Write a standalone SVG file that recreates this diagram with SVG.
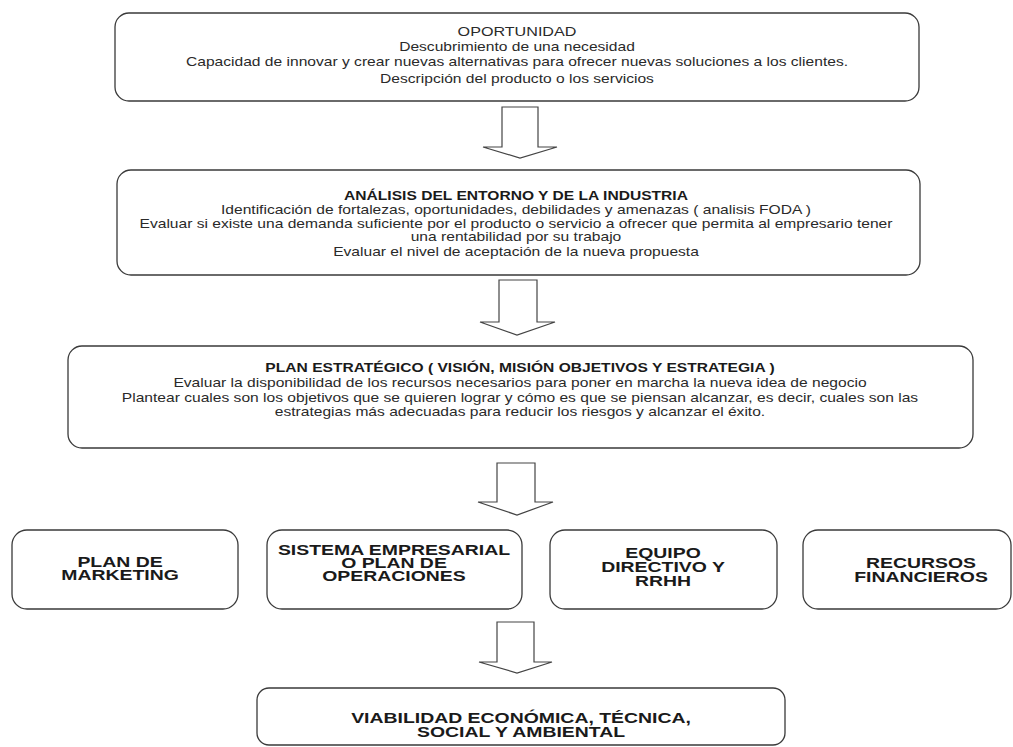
<svg xmlns="http://www.w3.org/2000/svg" width="1013" height="747" viewBox="0 0 1013 747">
<style>
.box{fill:#fff;stroke:#3a3a3a;stroke-width:1.3}
.arr{fill:#fff;stroke:#444;stroke-width:1.2;stroke-linejoin:miter}
.t{font-family:"Liberation Sans",Arial,sans-serif;font-size:12px;fill:#2a2a2a;text-anchor:middle}
.tt{font-family:"Liberation Sans",Arial,sans-serif;font-size:12px;fill:#1a1a1a;text-anchor:middle;font-weight:bold}
.b{font-family:"Liberation Sans",Arial,sans-serif;font-size:14.5px;fill:#1a1a1a;text-anchor:middle;font-weight:bold}
</style>
<rect width="1013" height="747" fill="#fff"/>
<g id="connectors">
<path class="arr" d="M502,107 H538 V147 H557 L520,158 L483,147 H502 Z"/>
<path class="arr" d="M499,280 H537 V322 H555 L517,335 L480,322 H499 Z"/>
<path class="arr" d="M497,463 H535 V502 H553 L517,515 L478,502 H497 Z"/>
<path class="arr" d="M497,622 H534 V662 H552 L517,673 L479,662 H497 Z"/>
</g>
<g id="oportunidad">
<rect class="box" x="115" y="13" width="804" height="88" rx="14"/>
<text class="t" style="font-size:12.4px" transform="translate(517,36) scale(1.3,1)">OPORTUNIDAD</text>
<text class="t" transform="translate(517,51) scale(1.3,1)">Descubrimiento de una necesidad</text>
<text class="t" transform="translate(517,66) scale(1.3,1)">Capacidad de innovar y crear nuevas alternativas para ofrecer nuevas soluciones a los clientes.</text>
<text class="t" transform="translate(517,83) scale(1.3,1)">Descripción del producto o los servicios</text>
</g>
<g id="analisis">
<rect class="box" x="117" y="170" width="803" height="105" rx="14"/>
<text class="tt" transform="translate(516,200) scale(1.3,1)">ANÁLISIS DEL ENTORNO Y DE LA INDUSTRIA</text>
<text class="t" transform="translate(516,214) scale(1.3,1)">Identificación de fortalezas, oportunidades, debilidades y amenazas ( analisis FODA )</text>
<text class="t" transform="translate(516,228) scale(1.3,1)">Evaluar si existe una demanda suficiente por el producto o servicio a ofrecer que permita al empresario tener</text>
<text class="t" transform="translate(516,241) scale(1.3,1)">una rentabilidad por su trabajo</text>
<text class="t" transform="translate(516,256) scale(1.3,1)">Evaluar el nivel de aceptación de la nueva propuesta</text>
</g>
<g id="plan-estrategico">
<rect class="box" x="68" y="346" width="905" height="102" rx="14"/>
<text class="tt" transform="translate(520,372) scale(1.3,1)">PLAN ESTRATÉGICO ( VISIÓN, MISIÓN OBJETIVOS Y ESTRATEGIA )</text>
<text class="t" transform="translate(520,387) scale(1.3,1)">Evaluar la disponibilidad de los recursos necesarios para poner en marcha la nueva idea de negocio</text>
<text class="t" transform="translate(520,402) scale(1.3,1)">Plantear cuales son los objetivos que se quieren lograr y cómo es que se piensan alcanzar, es decir, cuales son las</text>
<text class="t" transform="translate(520,416) scale(1.3,1)">estrategias más adecuadas para reducir los riesgos y alcanzar el éxito.</text>
</g>
<g id="plan-marketing">
<rect class="box" x="12" y="530" width="226" height="79" rx="15"/>
<text class="b" transform="translate(120,567) scale(1.34,1)">PLAN DE</text>
<text class="b" transform="translate(120,580) scale(1.34,1)">MARKETING</text>
</g>
<g id="sistema-empresarial">
<rect class="box" x="267" y="530" width="255" height="79" rx="15"/>
<text class="b" transform="translate(394,555) scale(1.34,1)">SISTEMA EMPRESARIAL</text>
<text class="b" transform="translate(394,568) scale(1.34,1)">O PLAN DE</text>
<text class="b" transform="translate(394,581) scale(1.34,1)">OPERACIONES</text>
</g>
<g id="equipo-directivo">
<rect class="box" x="550" y="530" width="227" height="79" rx="15"/>
<text class="b" transform="translate(663,558) scale(1.34,1)">EQUIPO</text>
<text class="b" transform="translate(663,572) scale(1.34,1)">DIRECTIVO Y</text>
<text class="b" transform="translate(663,586) scale(1.34,1)">RRHH</text>
</g>
<g id="recursos-financieros">
<rect class="box" x="803" y="530" width="208" height="79" rx="15"/>
<text class="b" transform="translate(921,568) scale(1.34,1)">RECURSOS</text>
<text class="b" transform="translate(921,582) scale(1.34,1)">FINANCIEROS</text>
</g>
<g id="viabilidad">
<rect class="box" x="257" y="688" width="528" height="57" rx="12"/>
<text class="b" transform="translate(521,723) scale(1.34,1)">VIABILIDAD ECONÓMICA, TÉCNICA,</text>
<text class="b" transform="translate(521,737) scale(1.34,1)">SOCIAL Y AMBIENTAL</text>
</g>
</svg>
